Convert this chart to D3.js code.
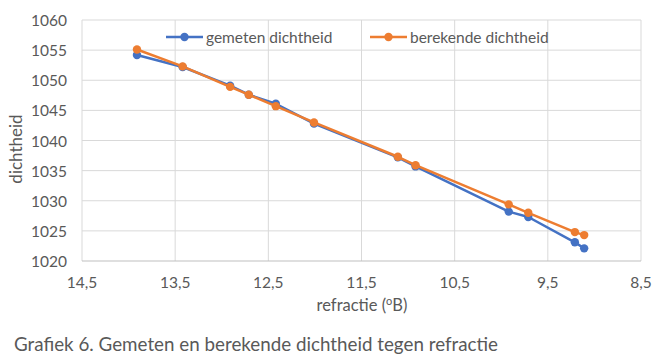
<!DOCTYPE html>
<html>
<head>
<meta charset="utf-8">
<script src="https://cdn.jsdelivr.net/npm/d3@7"></script>
<style>
  body { margin: 0; background: #fff; }
  svg text { font-family: Lato, "Open Sans", sans-serif; fill: #595959; }
</style>
</head>
<body>
<div id="chart"></div>
<script>
// refractie (°B) per meting
const refractie = [13.91, 13.42, 12.91, 12.71, 12.42, 12.01, 11.11, 10.92, 9.92, 9.71, 9.21, 9.11];
const gemeten   = [1054.2, 1052.2, 1049.1, 1047.6, 1046.1, 1042.8, 1037.2, 1035.7, 1028.2, 1027.3, 1023.1, 1022.1];
const berekend  = [1055.1, 1052.3, 1048.9, 1047.6, 1045.7, 1043.0, 1037.3, 1035.9, 1029.4, 1028.0, 1024.8, 1024.3];
const xTicks = [14.5, 13.5, 12.5, 11.5, 10.5, 9.5, 8.5];
const yTicks = [1020, 1025, 1030, 1035, 1040, 1045, 1050, 1055, 1060];
const seriesNames = ["gemeten dichtheid", "berekende dichtheid"];
const seriesColors = ["#4472C4", "#ED7D31"];

const W = 660, H = 361;
const plot = { left: 82, right: 641, top: 20, bottom: 261 };

const svg = d3.select("#chart").append("svg")
  .attr("width", W).attr("height", H);

// x-as loopt van hoog naar laag
const x = d3.scaleLinear().domain([14.5, 8.5]).range([plot.left, plot.right]);
const y = d3.scaleLinear().domain([1020, 1060]).range([plot.bottom, plot.top]);

const fmt = d => d3.format(".1f")(d).replace(".", ",");

// rasterlijnen
svg.append("g").selectAll("line.h")
  .data(yTicks.filter(d => d !== 1020))
  .join("line")
  .attr("x1", plot.left).attr("x2", plot.right)
  .attr("y1", d => y(d)).attr("y2", d => y(d))
  .attr("stroke", "#d9d9d9").attr("stroke-width", 1);

svg.append("g").selectAll("line.v")
  .data(xTicks)
  .join("line")
  .attr("x1", d => x(d)).attr("x2", d => x(d))
  .attr("y1", plot.top).attr("y2", plot.bottom)
  .attr("stroke", "#d9d9d9").attr("stroke-width", 1);

// onderste as
svg.append("line")
  .attr("x1", plot.left).attr("x2", plot.right)
  .attr("y1", plot.bottom).attr("y2", plot.bottom)
  .attr("stroke", "#bfbfbf").attr("stroke-width", 1);

// as-labels
svg.append("g").selectAll("text")
  .data(yTicks)
  .join("text")
  .attr("x", 67).attr("y", d => y(d) + 6)
  .attr("text-anchor", "end")
  .style("font-size", "15.5px")
  .text(d => d);

svg.append("g").selectAll("text")
  .data(xTicks)
  .join("text")
  .attr("x", d => x(d)).attr("y", 288)
  .attr("text-anchor", "middle")
  .style("font-size", "15.5px")
  .text(fmt);

// astitels
svg.append("text")
  .attr("transform", `translate(22,149) rotate(-90)`)
  .attr("text-anchor", "middle")
  .style("font-size", "17px")
  .text("dichtheid");

const xt = svg.append("text")
  .attr("x", 362).attr("y", 311)
  .attr("text-anchor", "middle")
  .style("font-size", "16.5px");
xt.append("tspan").text("refractie (");
xt.append("tspan").attr("dy", -6).style("font-size", "11px").text("o");
xt.append("tspan").attr("dy", 6).text("B)");

// lijnen en markers
const line = d3.line().x(d => x(d[0])).y(d => y(d[1]));
[gemeten, berekend].forEach((vals, i) => {
  const pts = refractie.map((r, j) => [r, vals[j]]);
  const g = svg.append("g");
  g.append("path")
    .datum(pts)
    .attr("d", line)
    .attr("fill", "none")
    .attr("stroke", seriesColors[i])
    .attr("stroke-width", 2.5)
    .attr("stroke-linejoin", "round");
  g.selectAll("circle")
    .data(pts)
    .join("circle")
    .attr("cx", d => x(d[0])).attr("cy", d => y(d[1]))
    .attr("r", 4.2)
    .attr("fill", seriesColors[i]);
});

// legenda
const legendX = [166, 370];
seriesNames.forEach((name, i) => {
  const g = svg.append("g").attr("transform", `translate(${legendX[i]},37)`);
  g.append("line").attr("x1", 0).attr("x2", 37)
    .attr("stroke", seriesColors[i]).attr("stroke-width", 2.5);
  g.append("circle").attr("cx", 18.5).attr("r", 4.2).attr("fill", seriesColors[i]);
  g.append("text").attr("x", 40).attr("y", 6)
    .style("font-size", "15.5px").text(name);
});

// onderschrift
svg.append("text")
  .attr("x", 14).attr("y", 351)
  .style("font-size", "18.8px")
  .text("Grafiek 6. Gemeten en berekende dichtheid tegen refractie");
</script>
</body>
</html>
